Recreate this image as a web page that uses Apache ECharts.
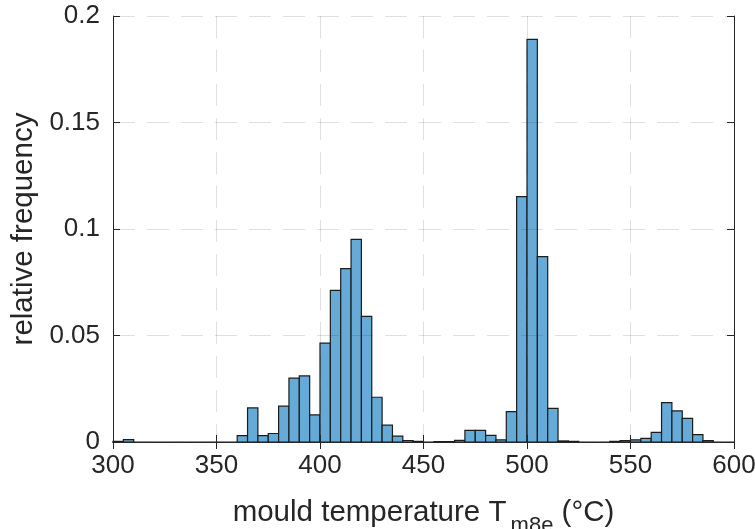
<!DOCTYPE html>
<html><head><meta charset="utf-8">
<script src="https://cdn.jsdelivr.net/npm/echarts@6/dist/echarts.min.js"></script>
<style>html,body{margin:0;padding:0;background:#fff}#c{width:755px;height:529px}</style>
</head><body><div id="c"></div>
<script>
const binStarts = [300,305,310,315,320,325,330,335,340,345,350,355,360,365,370,375,380,385,390,395,
  400,405,410,415,420,425,430,435,440,445,450,455,460,465,470,475,480,485,490,495,
  500,505,510,515,520,525,530,535,540,545,550,555,560,565,570,575,580,585,590,595];
const binWidth = 5;
const frequencies = [0.0003,0.0011,0,0,0,0,0,0,0,0,0,0,0.003,0.016,0.003,0.004,0.0168,0.030,0.031,0.0127,
  0.0464,0.0712,0.0814,0.0951,0.059,0.021,0.0079,0.0028,0.0007,0.0003,0,0.0002,0.0002,0.0008,0.0055,0.0055,0.0031,0.001,0.0143,0.1152,
  0.189,0.087,0.0158,0.0005,0.0003,0,0,0,0.0003,0.0006,0.001,0.0017,0.0045,0.0185,0.0146,0.0111,0.0035,0.0006,0,0];
const xMin = 300, xMax = 600, xStep = 50;
const yMin = 0, yMax = 0.2, yStep = 0.05;

const data = binStarts.map((s, i) => [s, s + binWidth, frequencies[i]]);
const font = 'Liberation Sans, Arial, Helvetica, sans-serif';
const ink = '#262626';
const gridLine = { show: true, lineStyle: { color: 'rgba(38,38,38,0.15)', width: 1, type: [22, 12] } };

const chart = echarts.init(document.getElementById('c'), null, { renderer: 'canvas' });
chart.setOption({
  animation: false,
  backgroundColor: '#fff',
  grid: { left: 113, right: 21, top: 16, bottom: 87, containLabel: false, outerBoundsMode: 'none' },
  xAxis: [{
    type: 'value', min: xMin, max: xMax, interval: xStep, position: 'bottom', z: 3,
    axisLine: { show: true, lineStyle: { color: ink, width: 1 } },
    axisTick: { show: true, inside: true, length: 7, lineStyle: { color: ink } },
    axisLabel: { color: ink, fontSize: 26, fontFamily: font, margin: 11 },
    splitLine: gridLine,
    name: '{m|mould temperature T}{sp| }{sub|m8e}{m| (°C)}',
    nameLocation: 'middle', nameGap: 56,
    nameTextStyle: {
      color: ink, fontSize: 29.5, fontFamily: font, verticalAlign: 'top',
      rich: {
        m: { fontSize: 29.5, fontFamily: font, color: ink, verticalAlign: 'top', lineHeight: 31 },
        sp: { fontSize: 15, fontFamily: font, verticalAlign: 'top' },
        sub: { fontSize: 22, fontFamily: font, color: ink, verticalAlign: 'top', lineHeight: 23, padding: [17, 0, 0, 0] }
      }
    }
  }, {
    type: 'value', min: xMin, max: xMax, interval: xStep, position: 'top', z: 3,
    axisLine: { show: true, lineStyle: { color: ink, width: 1 } },
    axisTick: { show: true, inside: true, length: 7, lineStyle: { color: ink } },
    axisLabel: { show: false }, splitLine: { show: false }
  }],
  yAxis: [{
    type: 'value', min: yMin, max: yMax, interval: yStep, position: 'left', z: 3,
    axisLine: { show: true, lineStyle: { color: ink, width: 1 } },
    axisTick: { show: true, inside: true, length: 7, lineStyle: { color: ink } },
    axisLabel: { color: ink, fontSize: 26, fontFamily: font, margin: 13 },
    splitLine: gridLine,
    name: 'relative frequency', nameLocation: 'middle', nameGap: 62, nameRotate: 90,
    nameTextStyle: { color: ink, fontSize: 29.5, fontFamily: font }
  }, {
    type: 'value', min: yMin, max: yMax, interval: yStep, position: 'right', z: 3,
    axisLine: { show: true, lineStyle: { color: ink, width: 1 } },
    axisTick: { show: true, inside: true, length: 7, lineStyle: { color: ink } },
    axisLabel: { show: false }, splitLine: { show: false }
  }],
  series: [{
    type: 'custom', xAxisIndex: 0, yAxisIndex: 0, z: 2,
    encode: { x: [0, 1], y: 2 },
    data: data,
    renderItem: function (params, api) {
      const p0 = api.coord([api.value(0), 0]);
      const p1 = api.coord([api.value(1), api.value(2)]);
      return {
        type: 'rect',
        shape: { x: p0[0], y: p1[1], width: p1[0] - p0[0], height: p0[1] - p1[1] },
        style: { fill: '#66aad7', stroke: '#1c1c1c', lineWidth: 1.2 }
      };
    }
  }]
});
</script></body></html>
